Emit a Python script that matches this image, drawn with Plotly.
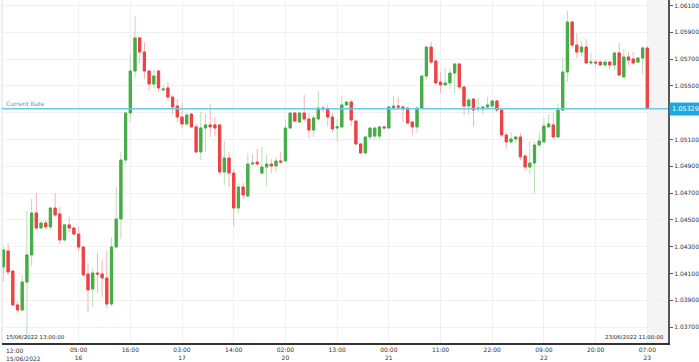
import plotly.graph_objects as go

opens = [1.04149,1.04269,1.04119,1.03866,1.03828,1.04037,1.04239,1.04552,1.04440,1.04477,
         1.04448,1.04589,1.04545,1.04351,1.04463,1.04440,1.04395,1.04298,1.04097,1.03985,
         1.04104,1.04097,1.04067,1.03873,1.04298,1.04507,1.04947,1.05298,1.05611,1.05858,
         1.05753,1.05611,1.05514,1.05611,1.05470,1.05485,1.05417,1.05350,1.05268,1.05216,
         1.05290,1.05194,1.05007,1.05186,1.05209,1.05209,1.05209,1.04858,1.04962,1.04850,
         1.04589,1.04746,1.04679,1.04917,1.04932,1.04850,1.04895,1.04917,1.04903,1.04940,
         1.04940,1.05186,1.05298,1.05231,1.05298,1.05253,1.05171,1.05253,1.05335,1.05328,
         1.05268,1.05186,1.05194,1.05358,1.05380,1.05238,1.05067,1.05000,1.05119,1.05126,
         1.05126,1.05194,1.05186,1.05335,1.05350,1.05343,1.05335,1.05231,1.05194,1.05335,
         1.05574,1.05790,1.05686,1.05529,1.05507,1.05522,1.05596,1.05664,1.05492,1.05350,
         1.05402,1.05328,1.05328,1.05343,1.05350,1.05388,1.05320,1.05134,1.05082,1.05104,
         1.05119,1.04977,1.04895,1.04925,1.05059,1.05082,1.05194,1.05209,1.05119,1.05320,
         1.05604,1.05977,1.05805,1.05753,1.05790,1.05671,1.05678,1.05678,1.05656,1.05678,
         1.05656,1.05746,1.05567,1.05716,1.05701,1.05678,1.05708,1.05783]
highs = [1.04298,1.04328,1.04127,1.03888,1.04090,1.04567,1.04657,1.04701,1.04492,1.04500,
         1.04597,1.04701,1.04597,1.04470,1.04522,1.04448,1.04448,1.04306,1.04179,1.04142,
         1.04254,1.04201,1.04269,1.04373,1.04746,1.05007,1.05305,1.05738,1.06022,1.05865,
         1.05828,1.05619,1.05619,1.05619,1.05507,1.05529,1.05432,1.05402,1.05373,1.05298,
         1.05298,1.05216,1.05305,1.05290,1.05365,1.05268,1.05216,1.05089,1.05007,1.04880,
         1.04776,1.04776,1.05000,1.04992,1.05030,1.05044,1.04992,1.04955,1.04970,1.05007,
         1.05246,1.05298,1.05305,1.05305,1.05432,1.05298,1.05283,1.05462,1.05350,1.05358,
         1.05298,1.05253,1.05425,1.05388,1.05395,1.05246,1.05074,1.05126,1.05194,1.05194,
         1.05201,1.05201,1.05350,1.05425,1.05417,1.05350,1.05343,1.05238,1.05343,1.05581,
         1.05798,1.05828,1.05693,1.05604,1.05634,1.05634,1.05671,1.05671,1.05499,1.05410,
         1.05410,1.05410,1.05350,1.05417,1.05395,1.05395,1.05328,1.05156,1.05156,1.05126,
         1.05149,1.04992,1.05089,1.05082,1.05149,1.05261,1.05283,1.05298,1.05365,1.05708,
         1.06059,1.05984,1.05895,1.05835,1.05850,1.05746,1.05693,1.05693,1.05693,1.05686,
         1.05753,1.05820,1.05775,1.05753,1.05753,1.05716,1.05798,1.05798]
lows = [1.04037,1.04090,1.03858,1.03806,1.03821,1.03605,1.04157,1.04425,1.04433,1.04425,
        1.04425,1.04522,1.04321,1.04343,1.04410,1.04388,1.04269,1.04082,1.03813,1.03851,
        1.03955,1.03925,1.03843,1.03858,1.04291,1.04358,1.04917,1.05231,1.05552,1.05671,
        1.05552,1.05462,1.05485,1.05455,1.05455,1.05395,1.05283,1.05231,1.05186,1.05201,
        1.05186,1.05000,1.04947,1.05007,1.05119,1.05126,1.04836,1.04761,1.04746,1.04455,
        1.04552,1.04657,1.04671,1.04910,1.04910,1.04836,1.04753,1.04850,1.04858,1.04917,
        1.04932,1.05179,1.05231,1.05223,1.05238,1.05112,1.05119,1.05246,1.05305,1.05201,
        1.05156,1.05082,1.05186,1.05350,1.05201,1.05059,1.04992,1.04992,1.05097,1.05097,
        1.05097,1.05179,1.05179,1.05313,1.05320,1.05231,1.05216,1.05134,1.05149,1.05328,
        1.05544,1.05664,1.05514,1.05447,1.05499,1.05477,1.05447,1.05477,1.05283,1.05283,
        1.05194,1.05305,1.05290,1.05335,1.05343,1.05305,1.05119,1.05030,1.05074,1.05074,
        1.04947,1.04865,1.04843,1.04694,1.05044,1.05074,1.05186,1.05112,1.05112,1.05313,
        1.05529,1.05790,1.05708,1.05723,1.05664,1.05656,1.05641,1.05649,1.05649,1.05619,
        1.05619,1.05574,1.05559,1.05656,1.05656,1.05671,1.05589,1.05329]
closes = [1.04276,1.04112,1.03866,1.03828,1.04037,1.04239,1.04552,1.04440,1.04477,1.04448,
          1.04589,1.04537,1.04351,1.04463,1.04440,1.04395,1.04298,1.04090,1.03978,1.04104,
          1.04097,1.04067,1.03873,1.04298,1.04507,1.04947,1.05298,1.05611,1.05858,1.05753,
          1.05611,1.05514,1.05574,1.05485,1.05477,1.05417,1.05343,1.05268,1.05216,1.05283,
          1.05194,1.05007,1.05186,1.05209,1.05194,1.05186,1.04858,1.04962,1.04850,1.04589,
          1.04746,1.04686,1.04917,1.04925,1.04917,1.04895,1.04917,1.04903,1.04940,1.04932,
          1.05186,1.05298,1.05238,1.05298,1.05253,1.05171,1.05261,1.05335,1.05328,1.05268,
          1.05179,1.05194,1.05358,1.05380,1.05246,1.05067,1.05000,1.05119,1.05186,1.05186,
          1.05194,1.05186,1.05343,1.05350,1.05343,1.05328,1.05223,1.05194,1.05335,1.05574,
          1.05790,1.05678,1.05522,1.05507,1.05522,1.05596,1.05664,1.05492,1.05350,1.05395,
          1.05320,1.05335,1.05343,1.05358,1.05388,1.05320,1.05134,1.05082,1.05104,1.05119,
          1.04970,1.04895,1.04925,1.05059,1.05089,1.05201,1.05216,1.05119,1.05320,1.05604,
          1.05977,1.05805,1.05753,1.05790,1.05671,1.05678,1.05671,1.05656,1.05678,1.05656,
          1.05746,1.05581,1.05716,1.05693,1.05671,1.05708,1.05783,1.05329]

tick_positions = [16, 27, 38, 49, 60, 71, 82, 93, 104, 115, 126, 137]
tick_labels = ["05:00<br>16", "16:00", "03:00<br>17", "14:00", "02:00<br>20", "13:00",
               "00:00<br>21", "11:00", "22:00", "09:00<br>22", "20:00", "07:00<br>23"]
y_ticks = [1.037, 1.039, 1.041, 1.043, 1.045, 1.047, 1.049, 1.051, 1.053,
           1.055, 1.057, 1.059, 1.061]
current_rate = 1.05329
start_label = "15/06/2022 13:00:00"
end_label = "23/06/2022 11:00:00"
first_axis_label = "12:00<br>15/06/2022"

n = len(opens)
xs = list(range(n))
body_hi = [max(o, c) for o, c in zip(opens, closes)]
body_lo = [min(o, c) for o, c in zip(opens, closes)]

GREEN = "#45ad45"
RED = "#ee4242"
GREEN_W = "#b8e0b5"
RED_W = "#f6b3b3"

fig = go.Figure()
# wicks (light)
fig.add_trace(go.Candlestick(
    x=xs, open=opens, high=highs, low=lows, close=closes,
    increasing=dict(line=dict(color=GREEN_W, width=1), fillcolor=GREEN_W),
    decreasing=dict(line=dict(color=RED_W, width=1), fillcolor=RED_W),
    hoverinfo="skip", showlegend=False))
# bodies (strong)
fig.add_trace(go.Candlestick(
    x=xs, open=opens, high=body_hi, low=body_lo, close=closes,
    increasing=dict(line=dict(color=GREEN, width=1), fillcolor=GREEN),
    decreasing=dict(line=dict(color=RED, width=1), fillcolor=RED),
    hoverinfo="skip", showlegend=False))

x_lo, x_hi = -0.3, n + 3.4
font_family = "DejaVu Sans"

fig.update_layout(
    width=699, height=362,
    margin=dict(l=2, r=31, t=0, b=19),
    paper_bgcolor="white", plot_bgcolor="white",
    boxgap=0.32,
    xaxis=dict(range=[x_lo, x_hi], rangeslider=dict(visible=False),
               tickmode="array", tickvals=tick_positions, ticktext=tick_labels,
               tickfont=dict(size=6, color="#333", family=font_family),
               showgrid=True, gridcolor="#f0f0f0", gridwidth=1,
               showline=True, linecolor="#333", linewidth=1.5,
               ticks="", zeroline=False, fixedrange=True, automargin=False),
    yaxis=dict(side="right", range=[1.03582, 1.06141],
               tickmode="array", tickvals=y_ticks,
               ticktext=[f"{v:.5f}" for v in y_ticks],
               tickfont=dict(size=6, color="#333", family=font_family),
               showgrid=True, gridcolor="#f0f0f0", gridwidth=1,
               showline=True, linecolor="#555", linewidth=2,
               ticks="outside", ticklen=3, tickcolor="#555",
               zeroline=False, fixedrange=True, automargin=False),
    font=dict(family=font_family),
    shapes=[
        dict(type="rect", xref="x", yref="paper", x0=n - 0.8, x1=x_hi, y0=0, y1=1,
             fillcolor="#f4f4f4", line=dict(width=0), layer="below"),
        dict(type="line", xref="paper", yref="paper", x0=0, x1=0, y0=0, y1=1,
             line=dict(color="#dddddd", width=1)),
        dict(type="line", xref="paper", yref="y", x0=0, x1=1,
             y0=current_rate, y1=current_rate,
             line=dict(color="#69c9ea", width=1.5)),
    ],
    annotations=[
        dict(text="Current Rate", xref="paper", yref="y", x=0.003, y=current_rate,
             xanchor="left", yanchor="bottom", showarrow=False,
             font=dict(size=6, color="#29a8e0")),
        dict(text=f"{current_rate:.5f}", xref="paper", yref="y", x=1, y=current_rate,
             xanchor="left", yanchor="middle", showarrow=False, xshift=1,
             bgcolor="#1aa9e0", borderpad=2,
             font=dict(size=6.5, color="white")),
        dict(text=start_label, xref="paper", yref="paper", x=0.003, y=0,
             xanchor="left", yanchor="bottom", showarrow=False, yshift=1,
             font=dict(size=5.5, color="#222")),
        dict(text=end_label, xref="paper", yref="paper", x=0.997, y=0,
             xanchor="right", yanchor="bottom", showarrow=False, yshift=1,
             font=dict(size=5.5, color="#222")),
        dict(text=first_axis_label, xref="paper", yref="paper", x=0.003, y=0,
             xanchor="left", yanchor="top", align="left", showarrow=False, yshift=-2,
             font=dict(size=6, color="#333")),
    ],
)

fig.write_html("out.html", config={"displayModeBar": False},
               post_script="document.body.style.margin='0';")
